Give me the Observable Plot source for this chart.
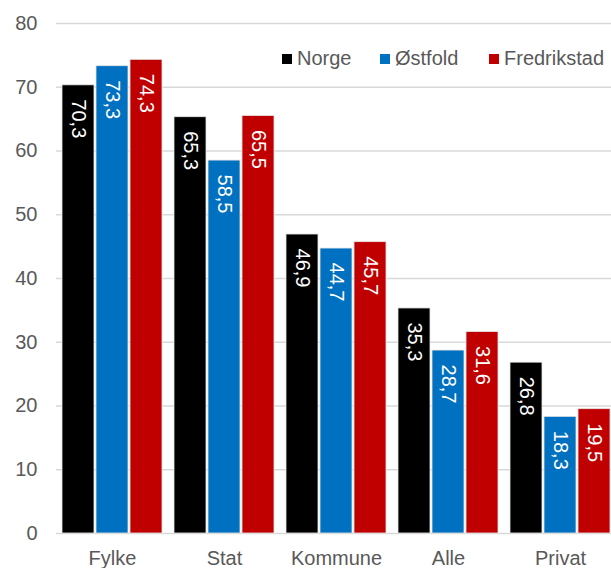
<!DOCTYPE html>
<html>
<head>
<meta charset="utf-8">
<script src="https://cdn.jsdelivr.net/npm/d3@7"></script>
<script src="https://cdn.jsdelivr.net/npm/@observablehq/plot@0.6"></script>
<style>
  html, body { margin: 0; padding: 0; background: #fff; overflow: hidden; }
  #wrap { position: relative; width: 611px; height: 568px; overflow: hidden; font-family: "Liberation Sans", Arial, sans-serif; }
  #wrap svg { max-width: none !important; }
  .leg { position: absolute; top: 47px; display: flex; align-items: center; font-size: 20px; color: #595959; }
  .leg span.sw { display: inline-block; width: 10px; height: 10px; margin-right: 5px; }
</style>
</head>
<body>
<div id="wrap"></div>
<script>
const categories = ["Fylke", "Stat", "Kommune", "Alle", "Privat"];
const series = ["Norge", "Østfold", "Fredrikstad"];
const colors = ["#000000", "#0070c0", "#c00000"];
const norge = [70.3, 65.3, 46.9, 35.3, 26.8];
const ostfold = [73.3, 58.5, 44.7, 28.7, 18.3];
const fredrikstad = [74.3, 65.5, 45.7, 31.6, 19.5];
const yTicks = [0, 10, 20, 30, 40, 50, 60, 70, 80];

const valuesBySeries = [norge, ostfold, fredrikstad];
const data = [];
categories.forEach((c, i) => {
  series.forEach((s, j) => data.push({cat: c, series: s, value: valuesBySeries[j][i]}));
});
const fmt = v => v.toFixed(1).replace(".", ",");

const chart = Plot.plot({
  width: 617,
  height: 568,
  marginTop: 23,
  marginBottom: 35,
  marginLeft: 54,
  marginRight: 0,
  style: {fontFamily: "'Liberation Sans', Arial, sans-serif", fontSize: "20px", color: "#595959", background: "white", maxWidth: "none"},
  fx: {domain: categories, padding: 0, label: null, tickSize: 0, tickPadding: 17},
  x: {domain: series, axis: null, paddingInner: 0.057, paddingOuter: 0.143},
  y: {domain: [0, 80], ticks: yTicks, tickSize: 0, tickPadding: 19, label: null},
  color: {domain: series, range: colors},
  marks: [
    Plot.ruleY(yTicks, {stroke: "#d9d9d9", strokeWidth: 1.3}),
    Plot.barY(data, {fx: "cat", x: "series", y: "value", fill: "series", stroke: "#e6e6e6", strokeWidth: 0.8}),
    Plot.text(data, {fx: "cat", x: "series", y: "value", text: d => fmt(d.value), rotate: 90,
      textAnchor: "start", lineAnchor: "middle", dy: 14, fill: "white", fontSize: 20})
  ]
});
chart.style.maxWidth = "none";
const wrap = document.getElementById("wrap");
wrap.appendChild(chart);

const legLefts = [282, 380, 489];
series.forEach((s, i) => {
  const el = document.createElement("div");
  el.className = "leg";
  el.style.left = legLefts[i] + "px";
  el.innerHTML = `<span class="sw" style="background:${colors[i]}"></span><span>${s}</span>`;
  wrap.appendChild(el);
});
</script>
</body>
</html>
